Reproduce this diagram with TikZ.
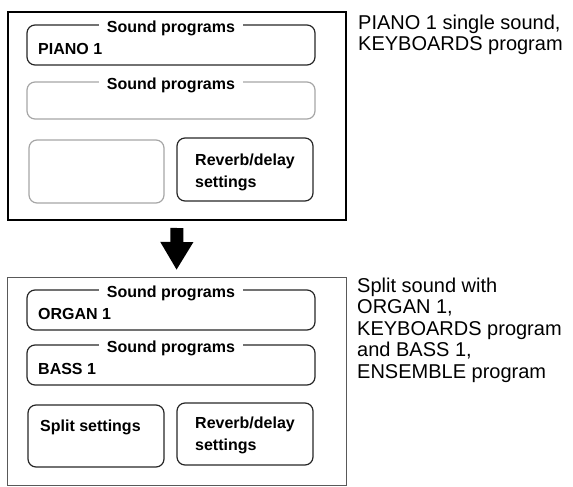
\documentclass[tikz,border=0pt]{standalone}
\usepackage{fontspec}
\setmainfont{Liberation Sans}
\usetikzlibrary{arrows.meta}

\tikzset{
  panel/.style={draw,inner sep=0pt,outer sep=0pt},
  slot/.style={draw=black!85,line width=1.2pt,rounded corners=8pt,inner sep=0pt},
  slotoff/.style={slot,draw=black!35},
  lbl/.style={fill=white,inner xsep=8pt,inner ysep=1pt,font=\fontsize{16}{18}\selectfont\bfseries,anchor=base},
  val/.style={anchor=base west,inner sep=0pt,font=\fontsize{16}{22}\selectfont\bfseries,align=left},
  note/.style={anchor=north west,inner sep=0pt,font=\fontsize{20}{21.5}\selectfont,align=left}
}

\begin{document}
\begin{tikzpicture}[x=1pt,y=-1pt]
\useasboundingbox (0,0) rectangle (573,487);

% before: single sound
\node[panel,line width=1.6pt,minimum width=338pt,minimum height=208pt] (single) at (177,116) {};
\node[slot,minimum width=288pt,minimum height=40pt] (piano) at (171,45) {};
\node[lbl] at ([yshift=-8pt]piano.north) {Sound programs};
\node[val] at (38,55) {PIANO 1};
\node[slotoff,minimum width=288pt,minimum height=37pt] (empty) at (171,100.5) {};
\node[lbl] at ([yshift=-8pt]empty.north) {Sound programs};
\node[slotoff,minimum width=135pt,minimum height=63pt] (nosplit) at (96.5,171.5) {};
\node[slot,minimum width=136pt,minimum height=63pt] (reverbA) at (245,169.5) {};
\node[val] at (195,187) {Reverb/delay\\settings};

\node[note] (noteA) at (358,14.5) {PIANO 1 single sound,\\KEYBOARDS program};

% after: split sound
\node[panel,draw=black!65,line width=1pt,minimum width=339pt,minimum height=208pt] (split) at (176.5,381) {};
\node[slot,minimum width=288pt,minimum height=40pt] (organ) at (171,310) {};
\node[lbl] at ([yshift=-8pt]organ.north) {Sound programs};
\node[val] at (38,319) {ORGAN 1};
\node[slot,minimum width=288pt,minimum height=40pt] (bass) at (171,365) {};
\node[lbl] at ([yshift=-8pt]bass.north) {Sound programs};
\node[val] at (38,374) {BASS 1};
\node[slot,minimum width=136pt,minimum height=62pt] (splitset) at (96,436) {};
\node[val] at (40,431) {Split settings};
\node[slot,minimum width=136pt,minimum height=62pt] (reverbB) at (245,434) {};
\node[val] at (195,450) {Reverb/delay\\settings};

\node[note] (noteB) at (357,277.5) {Split sound with\\ORGAN 1,\\KEYBOARDS program\\and BASS 1,\\ENSEMBLE program};

\draw[line width=13pt,shorten <=8pt,shorten >=7pt,-{Triangle[width=31pt,length=28pt]}] (single.south) -- (split.north);

\end{tikzpicture}
\end{document}
